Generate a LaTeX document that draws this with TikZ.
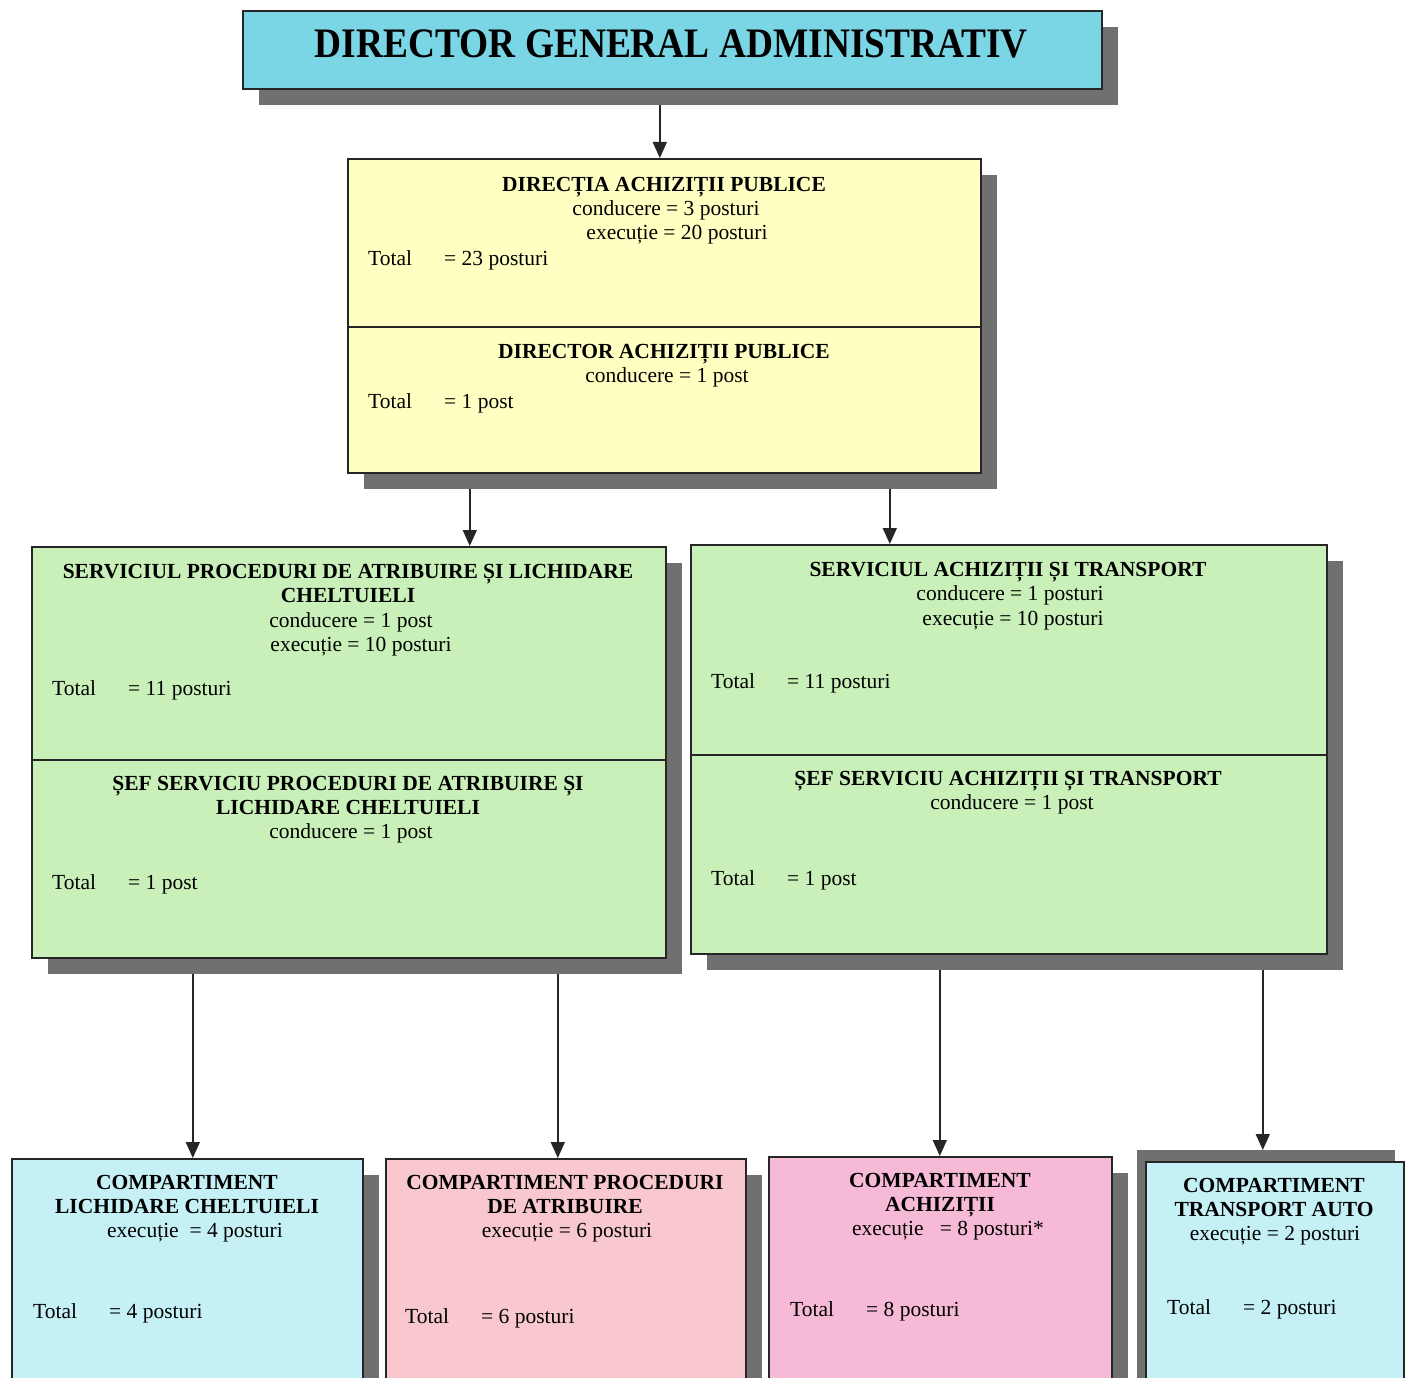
\documentclass[tikz,border=0pt]{standalone}
\usepackage{fontspec}
\setmainfont{Liberation Serif}
\usetikzlibrary{shadows,arrows.meta,backgrounds}
\definecolor{titlecyan}{RGB}{122,214,228}
\definecolor{yel}{RGB}{255,255,194}
\definecolor{grn}{RGB}{200,240,184}
\definecolor{lcyan}{RGB}{196,240,246}
\definecolor{pink1}{RGB}{248,200,206}
\definecolor{pink2}{RGB}{246,186,214}
\definecolor{shgray}{RGB}{112,112,112}
\tikzset{
  box/.style={draw=black!85, line width=1.6pt, rectangle, inner sep=0pt, anchor=north west,
    drop shadow={shadow xshift=16pt, shadow yshift=-16pt, fill=shgray, opacity=1}},
  boxns/.style={draw=black!85, line width=1.6pt, rectangle, inner sep=0pt, anchor=north west},
  txt/.style={inner sep=0pt, anchor=base, font=\fontsize{21.5}{24.5}\selectfont},
  hdr/.style={txt, font=\fontsize{21.5}{24.5}\selectfont\bfseries},
  tot/.style={txt, anchor=base west},
  arr/.style={line width=1.6pt, draw=black!85, -{Triangle[width=14pt,length=16pt]}}
}
\newcommand{\totline}[1]{\makebox[76pt][l]{Total}#1}
\begin{document}
\begin{tikzpicture}[x=1pt,y=-1pt]
\useasboundingbox (0,0) rectangle (1405,1378);
\clip (0,0) rectangle (1405,1378);

% ---------- boxes ----------
\node[box, fill=titlecyan, minimum width=859pt, minimum height=78pt] (title) at (242,10) {};
\node[txt, font=\fontsize{42}{42}\selectfont\bfseries] (titletxt) at (671.5,58) {\scalebox{0.89}[1]{DIRECTOR GENERAL ADMINISTRATIV}};

\node[box, fill=yel, minimum width=633pt, minimum height=168pt] (dirA) at (347,158) {};
\node[box, fill=yel, minimum width=633pt, minimum height=146pt] (dirB) at (347,326) {};

\node[box, fill=grn, minimum width=634pt, minimum height=213pt] (lgA) at (31,546) {};
\node[box, fill=grn, minimum width=634pt, minimum height=198pt] (lgB) at (31,759) {};

\node[box, fill=grn, minimum width=636pt, minimum height=210pt] (rgA) at (690,544) {};
\node[box, fill=grn, minimum width=636pt, minimum height=199pt] (rgB) at (690,754) {};

\node[box, fill=lcyan, minimum width=351pt, minimum height=240pt] (c1) at (11,1158) {};
\node[box, fill=pink1, minimum width=360pt, minimum height=240pt] (c2) at (385,1158) {};
\node[box, fill=pink2, minimum width=343pt, minimum height=240pt] (c3) at (768,1156) {};
\fill[shgray] (1137,1150) rectangle (1395,1390);
\node[boxns, fill=lcyan, minimum width=258pt, minimum height=240pt] (c4) at (1145,1161) {};

% ---------- connectors (behind shadows) ----------
\coordinate (p0) at ([xshift=-4.5pt]dirA.north);
\coordinate (p1) at ([xshift=-194.5pt]dirB.south);
\coordinate (p2) at ([xshift=225.5pt]dirB.south);
\coordinate (p3) at ([xshift=-156pt]lgB.south);
\coordinate (p4) at ([xshift=209pt]lgB.south);
\coordinate (p5) at ([xshift=-69pt]rgB.south);
\coordinate (p6) at ([xshift=254pt]rgB.south);
\coordinate (e6) at ([yshift=11pt]c4.north);
\begin{scope}[on background layer]
\fill[white] (0,0) rectangle (1405,1378);
\draw[arr] (p0 |- title.south) -- (p0);
\draw[arr] (p1) -- (p1 |- lgA.north);
\draw[arr] (p2) -- (p2 |- rgA.north);
\draw[arr] (p3) -- (p3 |- c1.north);
\draw[arr] (p4) -- (p4 |- c2.north);
\draw[arr] (p5) -- (p5 |- c3.north);
\draw[arr] (p6) -- (p6 |- e6);
\end{scope}

% ---------- texts: Directia ----------
\node[hdr] (dA1) at (664,191) {DIRECȚIA ACHIZIȚII PUBLICE};
\node[txt] (dA2) at (666,215) {conducere = 3 posturi};
\node[txt] (dA3) at (677,239) {execuție = 20 posturi};
\node[tot] (dA4) at (368,265) {\totline{= 23 posturi}};
\node[hdr] (dB1) at (664,358) {DIRECTOR ACHIZIȚII PUBLICE};
\node[txt] (dB2) at (667,382) {conducere = 1 post};
\node[tot] (dB3) at (368,408) {\totline{= 1 post}};

% ---------- left green ----------
\node[hdr] (lA1) at (348,578) {SERVICIUL PROCEDURI DE ATRIBUIRE ȘI LICHIDARE};
\node[hdr] (lA2) at (348,602) {CHELTUIELI};
\node[txt] (lA3) at (351,627) {conducere = 1 post};
\node[txt] (lA4) at (361,651) {execuție = 10 posturi};
\node[tot] (lA5) at (52,695) {\totline{= 11 posturi}};
\node[hdr] (lB1) at (348,790) {ȘEF SERVICIU PROCEDURI DE ATRIBUIRE ȘI};
\node[hdr] (lB2) at (348,814) {LICHIDARE CHELTUIELI};
\node[txt] (lB3) at (351,838) {conducere = 1 post};
\node[tot] (lB4) at (52,889) {\totline{= 1 post}};

% ---------- right green ----------
\node[hdr] (rA1) at (1008,576) {SERVICIUL ACHIZIȚII ȘI TRANSPORT};
\node[txt] (rA2) at (1010,600) {conducere = 1 posturi};
\node[txt] (rA3) at (1013,625) {execuție = 10 posturi};
\node[tot] (rA4) at (711,688) {\totline{= 11 posturi}};
\node[hdr] (rB1) at (1008,785) {ȘEF SERVICIU ACHIZIȚII ȘI TRANSPORT};
\node[txt] (rB2) at (1012,809) {conducere = 1 post};
\node[tot] (rB3) at (711,885) {\totline{= 1 post}};

% ---------- bottom ----------
\node[hdr] (c1a) at (187,1189) {COMPARTIMENT};
\node[hdr] (c1b) at (187,1213) {LICHIDARE CHELTUIELI};
\node[txt] (c1c) at (195,1237) {execuție\ \ = 4 posturi};
\node[tot] (c1d) at (33,1318) {\totline{= 4 posturi}};

\node[hdr] (c2a) at (565,1189) {COMPARTIMENT PROCEDURI};
\node[hdr] (c2b) at (565,1213) {DE ATRIBUIRE};
\node[txt] (c2c) at (567,1237) {execuție = 6 posturi};
\node[tot] (c2d) at (405,1323) {\totline{= 6 posturi}};

\node[hdr] (c3a) at (940,1187) {COMPARTIMENT};
\node[hdr] (c3b) at (940,1211) {ACHIZIȚII};
\node[txt] (c3c) at (948,1235) {execuție\ \ \ = 8 posturi*};
\node[tot] (c3d) at (790,1316) {\totline{= 8 posturi}};

\node[hdr] (c4a) at (1274,1192) {COMPARTIMENT};
\node[hdr] (c4b) at (1274,1216) {TRANSPORT AUTO};
\node[txt] (c4c) at (1275,1240) {execuție = 2 posturi};
\node[tot] (c4d) at (1167,1314) {\totline{= 2 posturi}};
\end{tikzpicture}
\end{document}
